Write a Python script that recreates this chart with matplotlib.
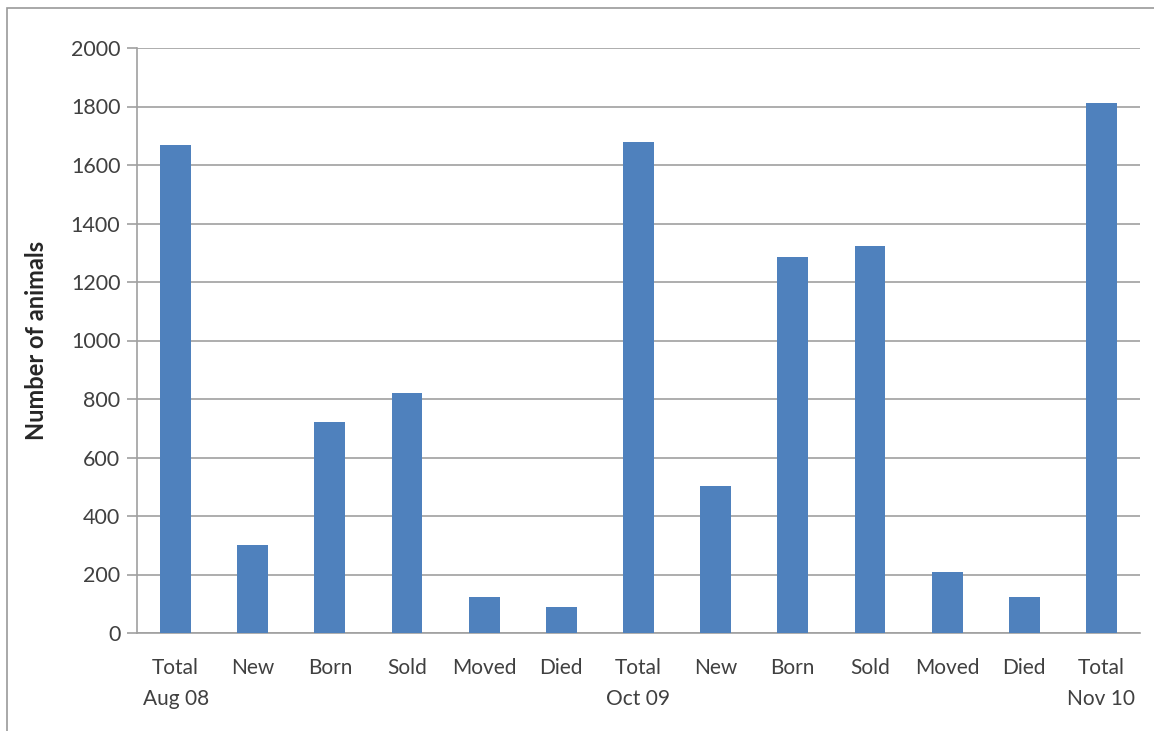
import matplotlib
matplotlib.use("Agg")
import matplotlib.pyplot as plt
from matplotlib.patches import Rectangle

categories = ["Total\nAug 08", "New", "Born", "Sold", "Moved", "Died",
              "Total\nOct 09", "New", "Born", "Sold", "Moved", "Died",
              "Total\nNov 10"]
values = [1670, 300, 720, 820, 123, 88, 1678, 503, 1285, 1323, 209, 123, 1812]
yticks = [0, 200, 400, 600, 800, 1000, 1200, 1400, 1600, 1800, 2000]

plt.rcParams['font.family'] = ['Lato', 'DejaVu Sans']

fig = plt.figure(figsize=(11.54, 7.31), dpi=100)
ax = fig.add_axes([137/1154, 1-633/731, (1140-137)/1154, (633-48)/731])

fig.patches.append(Rectangle((7/1154, -0.05), 1.2, 1-8/731+0.05, transform=fig.transFigure,
                             fill=False, edgecolor='#9A9A9A', linewidth=1.2))

x = list(range(len(categories)))
ax.bar(x, values, width=0.40, color='#4F81BD', zorder=3)
ax.set_xlim(-0.5, len(categories)-0.5)
ax.set_ylim(0, 2000)
ax.set_yticks(yticks)
ax.set_xticks(x)
ax.set_xticklabels(categories, fontsize=15, color='#404040', linespacing=1.7)
ax.tick_params(axis='y', labelsize=15.5, labelcolor='#404040', length=7, width=1.2, color='#A0A0A0', pad=5)
ax.tick_params(axis='x', length=0, pad=18)
ax.grid(axis='y', color='#A0A0A0', linewidth=1.2, zorder=0)
for s in ['top', 'right']:
    ax.spines[s].set_visible(False)
for s in ['left', 'bottom']:
    ax.spines[s].set_color('#A0A0A0')
    ax.spines[s].set_linewidth(1.2)
ax.set_ylabel("Number of animals", fontsize=17, fontweight='bold', color='#262626', labelpad=16)

fig.savefig("out.png", dpi=100, facecolor='white')
